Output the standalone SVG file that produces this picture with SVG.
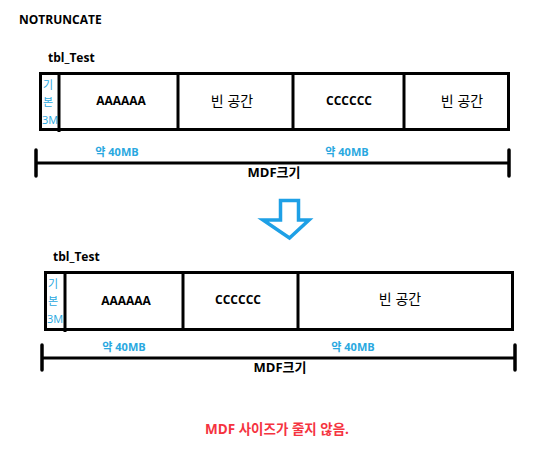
<svg xmlns="http://www.w3.org/2000/svg" width="550" height="460" viewBox="0 0 550 460">
<style>
text{font-family:"Open Sans","Noto Sans CJK KR",sans-serif;}
.t{font-size:12px;font-weight:bold;fill:#000;}
.c{font-size:12px;font-weight:bold;fill:#000;text-anchor:middle;}
.k{font-size:14px;fill:#000;text-anchor:middle;}
.b{font-size:11px;font-weight:bold;fill:#29A8E0;text-anchor:middle;}
.s{font-size:11px;fill:#29A8E0;}
.m{font-size:13px;font-weight:bold;fill:#000;text-anchor:middle;}
.box{fill:#fff;stroke:#000;stroke-width:3;}
.ln{stroke:#000;stroke-width:3;fill:none;}
.tk{stroke:#000;stroke-width:3.5;stroke-linecap:round;fill:none;}
</style>
<rect width="550" height="460" fill="#fff"/>
<text class="t" x="19" y="24">NOTRUNCATE</text>

<g id="table-top">
<text class="t" x="48" y="62">tbl_Test</text>
<rect class="box" x="40.5" y="73.5" width="468" height="56"/>
<line class="ln" x1="59" y1="73" x2="59" y2="132"/>
<line class="ln" x1="178" y1="73" x2="178" y2="130"/>
<line class="ln" x1="293" y1="73" x2="293" y2="130"/>
<line class="ln" x1="404" y1="73" x2="404" y2="130"/>
<text class="s" x="43" y="89">기</text>
<text class="s" x="43" y="106">본</text>
<text class="s" x="42" y="124">3M</text>
<text class="c" x="121" y="105">AAAAAA</text>
<text class="k" x="232" y="106">빈 공간</text>
<text class="c" x="349" y="105">CCCCCC</text>
<text class="k" x="462" y="106">빈 공간</text>
</g>

<g id="dim-top">
<line class="ln" x1="36" y1="163" x2="509" y2="163"/>
<line class="tk" x1="36" y1="150" x2="36" y2="176"/>
<line class="tk" x1="509" y1="150" x2="509" y2="176"/>
<text class="b" x="117" y="156">약 40MB</text>
<text class="b" x="347" y="156">약 40MB</text>
<text class="m" x="274" y="177">MDF크기</text>
</g>

<g id="arrow">
<path d="M280.5,200.5 H298.5 V220 H309 L289.5,238 L263,220 H280.5 Z" fill="none" stroke="#1EA0E6" stroke-width="3.5" stroke-linejoin="miter"/>
</g>

<g id="table-bottom">
<text class="t" x="53" y="261">tbl_Test</text>
<rect class="box" x="45.5" y="272.5" width="467" height="57"/>
<line class="ln" x1="65" y1="272" x2="65" y2="332"/>
<line class="ln" x1="183" y1="272" x2="183" y2="330"/>
<line class="ln" x1="298" y1="272" x2="298" y2="330"/>
<text class="s" x="48" y="288">기</text>
<text class="s" x="48" y="305">본</text>
<text class="s" x="47" y="323">3M</text>
<text class="c" x="126" y="305">AAAAAA</text>
<text class="c" x="238" y="304">CCCCCC</text>
<text class="k" x="400" y="304">빈 공간</text>
</g>

<g id="dim-bottom">
<line class="ln" x1="42" y1="358" x2="515" y2="358"/>
<line class="tk" x1="42" y1="345" x2="42" y2="370"/>
<line class="tk" x1="515" y1="345" x2="515" y2="370"/>
<text class="b" x="124" y="351">약 40MB</text>
<text class="b" x="353" y="351">약 40MB</text>
<text class="m" x="280" y="372">MDF크기</text>
</g>

<text x="277" y="434" style="font-size:13.5px;font-weight:bold;fill:#F5333F;text-anchor:middle">MDF 사이즈가 줄지 않음.</text>
</svg>
